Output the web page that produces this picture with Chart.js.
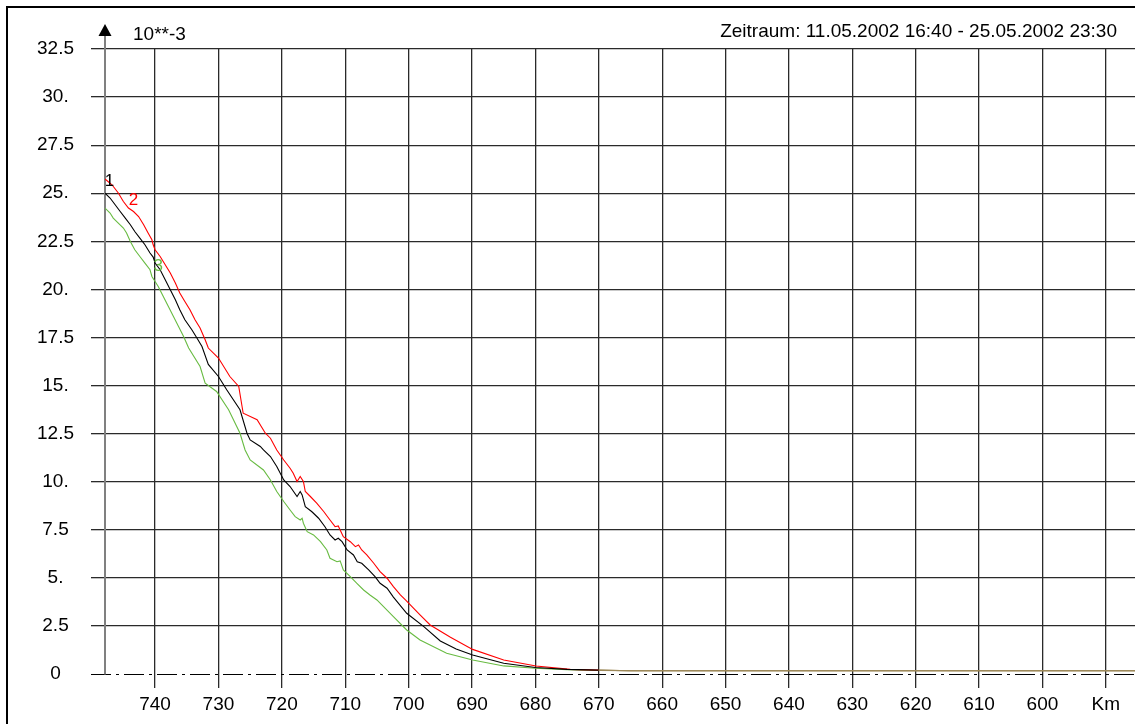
<!DOCTYPE html>
<html>
<head>
<meta charset="utf-8">
<title>Zeitraum 11.05.2002 - 25.05.2002</title>
<script src="https://cdn.jsdelivr.net/npm/chart.js@4.4.1/dist/chart.umd.min.js"></script>
<style>
  html, body { margin: 0; padding: 0; background: #fff; }
  canvas { display: block; }
</style>
</head>
<body>
<canvas id="c" width="1135" height="724"></canvas>
<script>
// River kilometre (Km) and value profiles, unit 10**-3
const kmSeries1 = [747.9, 747.1, 746.3, 745.5, 744.7, 743.9, 743.2, 742.4, 741.6, 740.8, 740.3, 740.0, 739.2, 738.4,
  737.6, 736.8, 736.1, 735.3, 734.2, 733.4, 732.6, 731.6, 730.0, 728.7, 726.6, 725.5, 725.0, 723.4, 722.9, 721.8,
  720.8, 719.7, 718.7, 717.6, 717.1, 716.8, 716.3, 715.3, 714.2, 713.2, 712.4, 711.6, 711.1, 710.5, 709.7, 708.7,
  708.1, 707.4, 706.3, 705.3, 704.5, 703.4, 702.4, 700.3, 697.6, 695.0, 692.5, 689.9, 685.0, 680.0, 675.0, 670.0,
  665.0, 650.0, 630.0, 610.0, 585.4];
const valSeries1 = [25.0, 24.75, 24.4, 24.05, 23.71, 23.36, 23.01, 22.67, 22.32, 21.89, 21.68, 21.37, 21.02, 20.5,
  19.98, 19.46, 18.94, 18.42, 17.9, 17.47, 17.03, 16.1, 15.47, 14.78, 13.74, 12.52, 12.17, 11.83, 11.65, 11.31,
  10.79, 10.09, 9.75, 9.23, 9.49, 9.31, 8.7, 8.45, 8.1, 7.66, 7.23, 6.97, 7.06, 6.88, 6.45, 6.19,
  5.84, 5.76, 5.41, 5.06, 4.72, 4.46, 4.0, 3.16, 2.46, 1.72, 1.3, 0.99, 0.56, 0.34, 0.24, 0.2,
  0.17, 0.17, 0.17, 0.17, 0.17];

const kmSeries2 = [747.9, 746.8, 745.8, 745.0, 744.2, 743.4, 742.6, 741.8, 741.1, 740.5, 740.3, 740.0, 739.2, 738.4,
  737.6, 736.8, 736.1, 735.3, 734.5, 733.7, 732.9, 732.1, 731.6, 730.0, 728.2, 726.8, 726.1, 723.9, 722.6, 721.8,
  720.8, 719.7, 718.7, 718.2, 717.6, 717.1, 716.6, 716.3, 715.5, 714.5, 713.4, 712.4, 711.6, 711.1, 710.8, 710.3,
  709.2, 708.4, 707.9, 707.4, 706.6, 705.5, 704.5, 703.4, 702.4, 701.3, 700.5, 698.2, 696.6, 693.4, 689.9, 685.0,
  679.9, 674.5, 670.0, 665.0, 650.0, 630.0, 610.0, 585.4];
const valSeries2 = [25.74, 25.44, 25.01, 24.57, 24.23, 24.05, 23.79, 23.36, 22.93, 22.58, 22.32, 22.06, 21.71, 21.28,
  20.85, 20.33, 19.81, 19.37, 18.94, 18.42, 17.99, 17.38, 16.95, 16.43, 15.47, 14.95, 13.56, 13.22, 12.52, 12.26,
  11.65, 11.13, 10.7, 10.44, 10.01, 10.27, 10.01, 9.49, 9.23, 8.88, 8.45, 8.01, 7.66, 7.7, 7.49, 7.14,
  6.88, 6.62, 6.71, 6.45, 6.19, 5.76, 5.32, 4.98, 4.54, 4.11, 3.85, 3.07, 2.55, 1.91, 1.28, 0.73,
  0.42, 0.24, 0.2, 0.17, 0.17, 0.17, 0.17, 0.17];

const kmSeries3 = [747.9, 747.1, 746.6, 745.8, 745.0, 744.5, 743.9, 743.2, 742.4, 741.6, 740.8, 740.5, 740.0, 739.5,
  738.7, 737.9, 737.1, 736.3, 735.5, 734.7, 732.9, 732.1, 730.3, 728.4, 726.6, 725.8, 725.0, 722.9, 721.8, 720.8,
  719.7, 718.7, 717.9, 717.1, 716.8, 716.6, 716.0, 715.0, 713.9, 712.9, 712.4, 711.3, 710.8, 710.3, 709.2, 708.2,
  707.1, 706.1, 705.0, 702.4, 700.3, 698.2, 694.0, 689.9, 685.0, 680.0, 675.0, 670.0, 665.0, 650.0, 630.0, 610.0,
  585.4];
const valSeries3 = [24.23, 23.97, 23.71, 23.45, 23.19, 22.93, 22.49, 22.06, 21.71, 21.37, 21.02, 20.67, 20.41, 20.15,
  19.63, 19.11, 18.59, 18.07, 17.55, 16.95, 15.99, 15.12, 14.69, 13.74, 12.52, 11.65, 11.13, 10.61, 10.09, 9.49,
  8.97, 8.53, 8.18, 8.01, 8.1, 7.84, 7.4, 7.23, 6.88, 6.45, 6.02, 5.84, 5.88, 5.41, 5.06, 4.72,
  4.37, 4.11, 3.85, 2.98, 2.29, 1.77, 1.08, 0.73, 0.42, 0.3, 0.22, 0.18, 0.17, 0.17, 0.17, 0.17,
  0.17];

// Axis ticks
const xTickValues = [740, 730, 720, 710, 700, 690, 680, 670, 660, 650, 640, 630, 620, 610, 600, 590];
const xTickLabels = ['740', '730', '720', '710', '700', '690', '680', '670', '660', '650', '640', '630', '620', '610', '600', 'Km'];
const yTickValues = [0, 2.5, 5, 7.5, 10, 12.5, 15, 17.5, 20, 22.5, 25, 27.5, 30, 32.5];
const yTickLabels = ['0', '2.5', '5.', '7.5', '10.', '12.5', '15.', '17.5', '20.', '22.5', '25.', '27.5', '30.', '32.5'];

// Curve numbers written next to the line starts
const curveNames = ['1', '2', '3'];
const curveNameKm = [747.2, 743.4, 739.5];
const curveNameVal = [25.6, 24.63, 21.19];

const titleText = 'Zeitraum: 11.05.2002 16:40 - 25.05.2002 23:30';
const unitText = '10**-3';

const FONT = '"Liberation Sans", Arial, Helvetica, sans-serif';
const FONT_SIZE = 19;
const TAIL = '#9c8858';
const curveColors = ['#000000', '#ff0000', '#68bb42'];

const toPoints = (km, v) => km.map((k, i) => ({ x: k, y: v[i] }));
const tailSegment = (base) => ({
  borderColor: ctx => (ctx.p0.parsed.y <= 0.2 && ctx.p1.parsed.y <= 0.2) ? TAIL : base
});

const decorations = {
  id: 'decorations',
  beforeDraw(chart) {
    const ctx = chart.ctx;
    ctx.save();
    ctx.fillStyle = '#fff';
    ctx.fillRect(0, 0, chart.width, chart.height);
    // outer frame
    ctx.strokeStyle = '#000';
    ctx.lineWidth = 2;
    ctx.strokeRect(7, 7, chart.width + 20, chart.height + 20);
    ctx.restore();
  },
  beforeDatasetsDraw(chart) {
    const ctx = chart.ctx;
    const ys = chart.scales.y;
    const area = chart.chartArea;
    const y0 = Math.round(ys.getPixelForValue(0)) + 0.5;
    ctx.save();
    // dash-dot base line at 0
    ctx.strokeStyle = '#000';
    ctx.lineWidth = 1;
    ctx.setLineDash([20, 5, 3, 5]);
    ctx.beginPath();
    ctx.moveTo(area.left - 14, y0);
    ctx.lineTo(area.right, y0);
    ctx.stroke();
    ctx.setLineDash([]);
    // vertical value axis with arrow
    const ax = area.left;
    ctx.strokeStyle = '#808080';
    ctx.lineWidth = 2;
    ctx.beginPath();
    ctx.moveTo(ax, 34);
    ctx.lineTo(ax, y0);
    ctx.stroke();
    ctx.fillStyle = '#000';
    ctx.beginPath();
    ctx.moveTo(ax, 24);
    ctx.lineTo(ax - 6.5, 36);
    ctx.lineTo(ax + 6.5, 36);
    ctx.closePath();
    ctx.fill();
    ctx.restore();
  },
  afterDatasetsDraw(chart) {
    const ctx = chart.ctx;
    const xs = chart.scales.x, ys = chart.scales.y;
    ctx.save();
    ctx.font = FONT_SIZE + 'px ' + FONT;
    ctx.fillStyle = '#000';
    ctx.textBaseline = 'alphabetic';
    ctx.textAlign = 'left';
    ctx.fillText(unitText, 133, 39.5);
    ctx.textAlign = 'right';
    ctx.fillText(titleText, 1117, 36.5);
    // curve numbers
    ctx.font = '17px ' + FONT;
    ctx.textAlign = 'center';
    ctx.textBaseline = 'middle';
    curveNames.forEach((t, i) => {
      ctx.fillStyle = curveColors[i];
      ctx.fillText(t, xs.getPixelForValue(curveNameKm[i]), ys.getPixelForValue(curveNameVal[i]));
    });
    ctx.restore();
  }
};

new Chart(document.getElementById('c'), {
  type: 'line',
  data: {
    datasets: [
      { label: '1', data: toPoints(kmSeries1, valSeries1), borderColor: curveColors[0], segment: tailSegment(curveColors[0]), order: 1 },
      { label: '2', data: toPoints(kmSeries2, valSeries2), borderColor: curveColors[1], segment: tailSegment(curveColors[1]), order: 2 },
      { label: '3', data: toPoints(kmSeries3, valSeries3), borderColor: curveColors[2], segment: tailSegment(curveColors[2]), order: 3 }
    ]
  },
  options: {
    responsive: false,
    animation: false,
    devicePixelRatio: 1,
    layout: { padding: { top: 49, left: 0, right: 0, bottom: 0 } },
    elements: {
      point: { radius: 0, hoverRadius: 0 },
      line: { borderWidth: 1.1, tension: 0, fill: false }
    },
    plugins: {
      legend: { display: false },
      tooltip: { enabled: false },
      title: { display: false }
    },
    scales: {
      x: {
        type: 'linear',
        reverse: true,
        min: 585.4,
        max: 747.9,
        afterFit(scale) { scale.height = 50; },
        afterBuildTicks(scale) { scale.ticks = xTickValues.map(v => ({ value: v })); },
        border: { display: false },
        grid: { color: '#2a2a2a', lineWidth: 1.3, tickLength: 14, drawTicks: true },
        ticks: {
          autoSkip: false,
          maxRotation: 0,
          padding: 5,
          color: '#000',
          font: { family: FONT, size: FONT_SIZE },
          callback: (v) => { const i = xTickValues.indexOf(v); return i >= 0 ? xTickLabels[i] : ''; }
        }
      },
      y: {
        type: 'linear',
        min: 0,
        max: 32.5,
        afterFit(scale) { scale.width = 105; },
        afterBuildTicks(scale) { scale.ticks = yTickValues.map(v => ({ value: v })); },
        border: { display: false },
        grid: {
          color: (c) => (c.tick && c.tick.value === 0) ? 'rgba(0,0,0,0)' : '#2a2a2a',
          lineWidth: 1.3,
          tickLength: 14
        },
        ticks: {
          autoSkip: false,
          crossAlign: 'center',
          padding: 17,
          color: '#000',
          font: { family: FONT, size: FONT_SIZE },
          callback: (v) => { const i = yTickValues.indexOf(v); return i >= 0 ? yTickLabels[i] : ''; }
        }
      }
    }
  },
  plugins: [decorations]
});
</script>
</body>
</html>
